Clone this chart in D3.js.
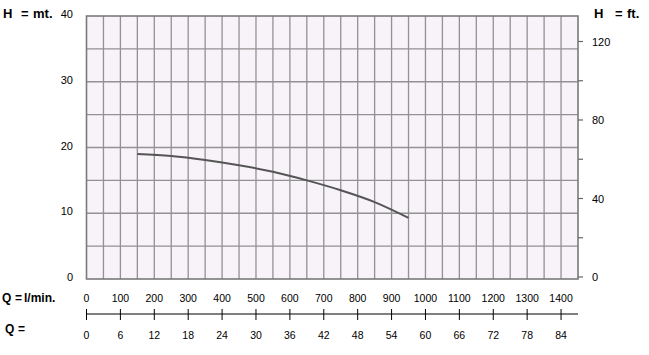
<!DOCTYPE html>
<html>
<head>
<meta charset="utf-8">
<script src="https://cdn.jsdelivr.net/npm/d3@7"></script>
<style>
  html, body { margin: 0; padding: 0; background: #fff; }
  svg text { font-family: Arial, "Liberation Sans", sans-serif; fill: #000; }
</style>
</head>
<body>
<div id="chart"></div>
<script>
// pump curve
const flowLmin = [150, 250, 350, 450, 550, 650, 750, 850, 950];
const headM = [19.0, 18.7, 18.1, 17.3, 16.3, 15.0, 13.5, 11.7, 9.3];

const qTicks = [0, 100, 200, 300, 400, 500, 600, 700, 800, 900, 1000, 1100, 1200, 1300, 1400];
const m3hLabels = [0, 6, 12, 18, 24, 30, 36, 42, 48, 54, 60, 66, 72, 78, 84];
const mTicks = [0, 10, 20, 30, 40];
const ftTicks = [0, 20, 40, 60, 80, 100, 120];
const ftLabels = [0, 40, 80, 120];

const W = 649, H = 355;
const svg = d3.select('#chart').append('svg')
  .attr('width', W).attr('height', H);

const x = d3.scaleLinear().domain([0, 1450]).range([86.5, 578]);
const y = d3.scaleLinear().domain([0, 40]).range([279, 16]);
const yFt = d3.scaleLinear().domain([0, 120]).range([277, 41.5]);

// plot background
svg.append('rect')
  .attr('x', x(0)).attr('y', y(40))
  .attr('width', x(1450) - x(0)).attr('height', y(0) - y(40))
  .attr('fill', '#f7f3f8');

// grid
const grid = svg.append('g').attr('stroke', '#929292').attr('stroke-width', 1.3);
grid.selectAll('.v').data(d3.range(50, 1450, 50)).join('line')
  .attr('x1', d => x(d)).attr('x2', d => x(d))
  .attr('y1', y(40)).attr('y2', y(0));
grid.selectAll('.h').data(d3.range(5, 40, 5)).join('line')
  .attr('x1', x(0)).attr('x2', x(1450))
  .attr('y1', d => y(d)).attr('y2', d => y(d));

svg.append('rect')
  .attr('x', x(0)).attr('y', y(40))
  .attr('width', x(1450) - x(0)).attr('height', y(0) - y(40))
  .attr('fill', 'none').attr('stroke', '#7a7a7a').attr('stroke-width', 1.6);

// curve
const pts = flowLmin.map((q, i) => [q, headM[i]]);
svg.append('path')
  .datum(pts)
  .attr('fill', 'none')
  .attr('stroke', '#555')
  .attr('stroke-width', 2)
  .attr('d', d3.line().x(d => x(d[0])).y(d => y(d[1])).curve(d3.curveMonotoneX));

// bold caption made of pieces, so the wide gaps stay
function caption(parts, yy, size) {
  parts.forEach(p => {
    svg.append('text').attr('x', p[1]).attr('y', yy)
      .attr('font-size', size).attr('font-weight', 'bold')
      .text(p[0]);
  });
}

// left metres axis
svg.selectAll('.ml').data(mTicks).join('text')
  .attr('x', 73).attr('y', d => y(d) + 2)
  .attr('text-anchor', 'end')
  .attr('font-size', 11)
  .text(d => d);
caption([['H', 3], ['=', 21], ['mt.', 33]], 18, 13);

// right feet axis
const rg = svg.append('g');
rg.selectAll('line').data(ftTicks).join('line')
  .attr('x1', x(1450)).attr('x2', x(1450) + 5)
  .attr('y1', d => yFt(d)).attr('y2', d => yFt(d))
  .attr('stroke', '#666').attr('stroke-width', 1.2);
rg.selectAll('text').data(ftLabels).join('text')
  .attr('x', 592).attr('y', d => yFt(d) + 4)
  .attr('font-size', 11)
  .text(d => d);
caption([['H', 594], ['=', 615], ['ft.', 627]], 18, 13);

// flow axis
const axY = 314;
svg.append('line')
  .attr('x1', x(0)).attr('x2', x(1450))
  .attr('y1', axY).attr('y2', axY)
  .attr('stroke', '#000').attr('stroke-width', 1);
svg.selectAll('.qt').data(qTicks).join('line')
  .attr('x1', d => x(d)).attr('x2', d => x(d))
  .attr('y1', axY - 5).attr('y2', axY + 6)
  .attr('stroke', '#000').attr('stroke-width', 1);
svg.selectAll('.ql').data(qTicks).join('text')
  .attr('x', d => x(d)).attr('y', 302)
  .attr('text-anchor', 'middle')
  .attr('font-size', 10.5)
  .text(d => d);
svg.selectAll('.ml3').data(m3hLabels).join('text')
  .attr('x', (d, i) => x(qTicks[i])).attr('y', 339)
  .attr('text-anchor', 'middle')
  .attr('font-size', 10.5)
  .text(d => d);
caption([['Q', 2], ['=', 15], ['l/min.', 24]], 302, 12);
caption([['Q', 5], ['=', 18]], 333, 12);
</script>
</body>
</html>
